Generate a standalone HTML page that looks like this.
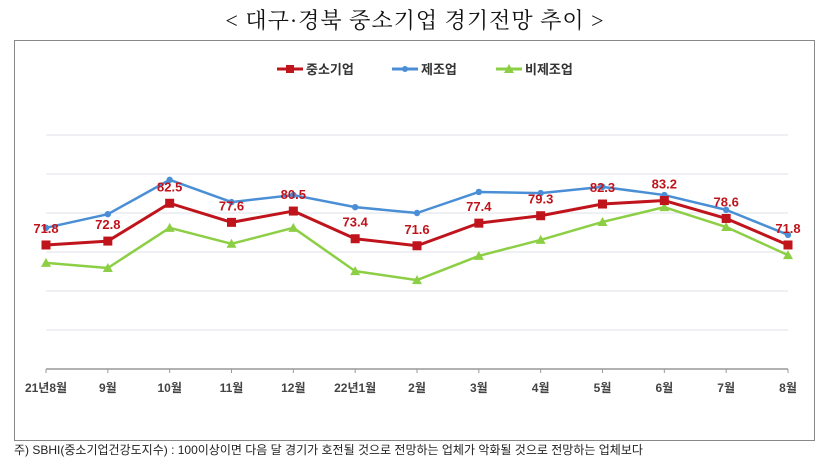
<!DOCTYPE html>
<html><head><meta charset="utf-8"><style>
body{margin:0;width:830px;height:449px;background:#fff;overflow:hidden;position:relative;font-family:"Liberation Sans","Noto Sans CJK KR",sans-serif}
#title{position:absolute;left:0;width:830px;top:4px;text-align:center;font:22px "Liberation Serif","Noto Serif CJK SC",serif;color:#111;letter-spacing:1px}
#note{position:absolute;left:14px;top:441px;font-size:12px;color:#222;white-space:nowrap}
</style></head><body>
<div id="title">&lt; 대구·경북 중소기업 경기전망 추이 &gt;</div>
<svg id="chart" width="830" height="449" style="position:absolute;left:0;top:0"></svg>
<div id="note">주) SBHI(중소기업건강도지수) : 100이상이면 다음 달 경기가 호전될 것으로 전망하는 업체가 악화될 것으로 전망하는 업체보다</div>
<script>
const categories=["21년8월","9월","10월","11월","12월","22년1월","2월","3월","4월","5월","6월","7월","8월"];
const smeValues=[71.8,72.8,82.5,77.6,80.5,73.4,71.6,77.4,79.3,82.3,83.2,78.6,71.8];
const mfgValues=[76.2,79.7,88.5,82.8,84.6,81.5,80.0,85.4,85.1,86.7,84.6,80.8,74.4];
const nonMfgValues=[67.2,65.9,76.2,72.1,76.2,65.1,62.8,69.0,73.1,77.7,81.5,76.4,69.2];
const gridTicks=[50,60,70,80,90,100];
const NS="http://www.w3.org/2000/svg";
const svg=document.getElementById('chart');
const x0=46,x1=788,yAxis=369;
function xPos(i){return x0+(x1-x0)*i/(categories.length-1);}
function yPos(v){return yAxis-(v-40)*3.9;}
function mk(t,a,p){const e=document.createElementNS(NS,t);for(const k in a)e.setAttribute(k,a[k]);(p||svg).appendChild(e);return e;}
const frame=mk('rect',{x:14.5,y:40.5,width:800,height:400,fill:'none',stroke:'#888'});


gridTicks.forEach(v=>{const g=mk('line',{x1:x0,x2:x1,y1:yPos(v),y2:yPos(v),stroke:'#e3e6ee','stroke-width':1.2});

});
const ax=mk('line',{x1:x0,x2:x1,y1:yAxis,y2:yAxis,stroke:'#999','stroke-width':1.5});


categories.forEach((c,i)=>{
const t=mk('line',{x1:xPos(i),x2:xPos(i),y1:yAxis,y2:yAxis+4,stroke:'#999'});


const l=mk('text',{x:xPos(i),y:392,'text-anchor':'middle','font-size':12,'font-weight':'bold',fill:'#444'});
l.textContent=c;

});
function series(vals,color,w,marker,name){
const g=mk('g',{});


mk('polyline',{points:vals.map((v,i)=>xPos(i)+','+yPos(v)).join(' '),fill:'none',stroke:color,'stroke-width':w,'stroke-linejoin':'round'},g);
vals.forEach((v,i)=>{const x=xPos(i),y=yPos(v);let m;
if(marker==='sq')m=mk('rect',{x:x-4.5,y:y-4.5,width:9,height:9,fill:color},g);
else if(marker==='dot')m=mk('circle',{cx:x,cy:y,r:3.2,fill:color},g);
else m=mk('polygon',{points:`${x},${y-5} ${x-5},${y+4} ${x+5},${y+4}`,fill:color},g);

});}
series(nonMfgValues,'#8ccf45',2.5,'tri','non-manufacturing-series');
series(mfgValues,'#4a8fd6',2.5,'dot','manufacturing-series');
series(smeValues,'#c0141c',3,'sq','sme-series');
smeValues.forEach((v,i)=>{const t=mk('text',{x:xPos(i),y:yPos(v)-12,'text-anchor':'middle','font-size':13,'font-weight':'bold',fill:'#c0141c'});
t.textContent=v.toFixed(1);

});
const legend=[["중소기업",'#c0141c','sq',277],["제조업",'#4a8fd6','dot',392],["비제조업",'#8ccf45','tri',496]];
legend.forEach(([n,c,m,x])=>{const g=mk('g',{});


mk('line',{x1:x,x2:x+26,y1:69,y2:69,stroke:c,'stroke-width':3},g);
if(m==='sq')mk('rect',{x:x+9,y:65,width:8,height:8,fill:c},g);
else if(m==='dot')mk('circle',{cx:x+13,cy:69,r:3,fill:c},g);
else mk('polygon',{points:`${x+13},${64} ${x+8},${73} ${x+18},${73}`,fill:c},g);
const t=mk('text',{x:x+29,y:74,'font-size':13,'font-weight':'bold',fill:'#333'},g);t.textContent=n;});
</script>
</body></html>
